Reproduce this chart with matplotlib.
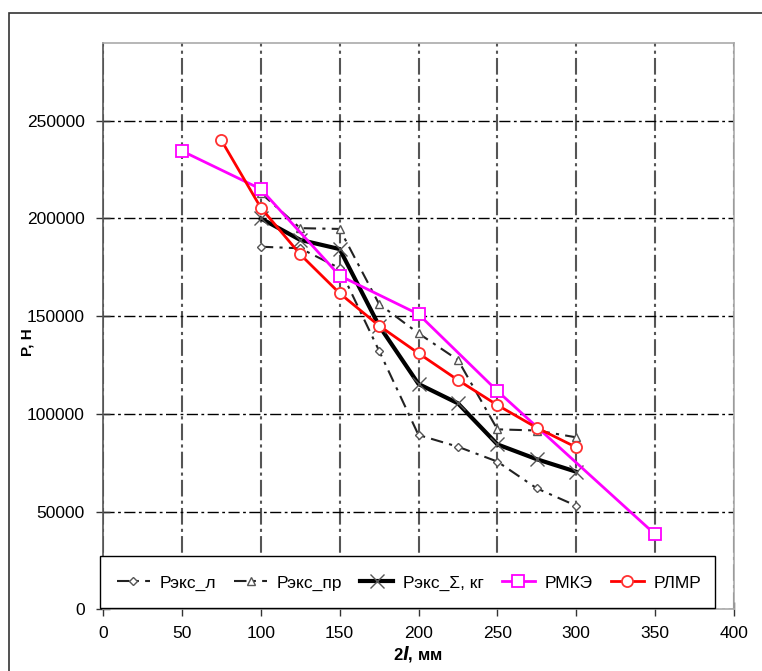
import matplotlib
matplotlib.use("Agg")
import matplotlib.pyplot as plt
from matplotlib.patches import Rectangle

plt.rcParams['font.family'] = ['Liberation Sans', 'DejaVu Sans']

x_exp = [100, 125, 150, 175, 200, 225, 250, 275, 300]
p_l = [185500, 184700, 174500, 132300, 89200, 83200, 75600, 61900, 53000]
p_pr = [213000, 195000, 194600, 156200, 141200, 127600, 92100, 91500, 88000]
p_sum = [200000, 189000, 184300, 145100, 115300, 105400, 84400, 76800, 70400]

x_mke = [50, 100, 150, 200, 250, 350]
p_mke = [234500, 215000, 170700, 151000, 111700, 38400]

x_lmr = [75, 100, 125, 150, 175, 200, 225, 250, 275, 300]
p_lmr = [240000, 205500, 181600, 161700, 145100, 131000, 117300, 104500, 92900, 82900]

labels = ['Рэкс_л', 'Рэкс_пр', 'Рэкс_Σ, кг', 'РМКЭ', 'РЛМР']
xticks = [0, 50, 100, 150, 200, 250, 300, 350, 400]
yticks = [0, 50000, 100000, 150000, 200000, 250000]

W, H = 762, 671
fig = plt.figure(figsize=(W / 100, H / 100), dpi=100)
fig.patches.append(Rectangle((9 / W, -0.1), 1.2, 1 - 13 / H + 0.1, transform=fig.transFigure,
                             fill=False, edgecolor='#333333', linewidth=1.2))

ax = fig.add_axes([103 / W, 1 - 609.4 / H, (734 - 103) / W, (609.4 - 43) / H])

dd = (0, (6, 3, 1.5, 3))
ax.plot(x_exp, p_l, color='#222222', linestyle=dd, linewidth=1.5,
        marker='D', markersize=4.5, markerfacecolor='white', markeredgecolor='#555555', label=labels[0])
ax.plot(x_exp, p_pr, color='#222222', linestyle=dd, linewidth=1.5,
        marker='^', markersize=6, markerfacecolor='white', markeredgecolor='#555555', label=labels[1])
ax.plot(x_exp, p_sum, color='black', linestyle='-', linewidth=3,
        marker='x', markersize=10, markeredgewidth=1.0, markeredgecolor='#555555', label=labels[2])
ax.plot(x_mke, p_mke, color='#ff00ff', linestyle='-', linewidth=2,
        marker='s', markersize=8, markerfacecolor='white', markeredgecolor='#ff00ff', markeredgewidth=1.3, label=labels[3])
ax.plot(x_lmr, p_lmr, color='#ff0000', linestyle='-', linewidth=2,
        marker='o', markersize=8, markerfacecolor='white', markeredgecolor='#ff3030', markeredgewidth=1.3, label=labels[4])

ax.set_xlim(0, 400)
ax.set_ylim(0, 289700)
ax.set_xticks(xticks)
ax.set_yticks(yticks)
ax.set_xticklabels([str(v) for v in xticks], fontsize=12.5)
ax.set_yticklabels([str(v) for v in yticks], fontsize=12.5)
ax.tick_params(direction='inout', length=10, color='#333333', width=1)
ax.tick_params(axis='y', pad=8)
ax.tick_params(axis='x', pad=7)

ax.xaxis.grid(True, color='#555555', linestyle=(0, (8, 2, 1.5, 2)), linewidth=1.5)
ax.yaxis.grid(True, color='black', linestyle=(0, (8, 2.5, 2, 2.5)), linewidth=1.0)
ax.set_axisbelow(True)
for s in ax.spines.values():
    s.set_color('#aaaaaa')
    s.set_linewidth(1.2)
ax.spines['left'].set_color('#555555')

fig.text(418 / W, 1 - 654 / H, r'2$\mathbfit{l}$, мм', fontsize=12, fontweight='bold', ha='center', va='center')
fig.text(28 / W, 1 - 342 / H, 'P, Н', fontsize=11, fontweight='bold', rotation=90, ha='center', va='center')

# legend box
fig.patches.append(Rectangle((100 / W, 1 - 608 / H), (715 - 100) / W, (608 - 556) / H, transform=fig.transFigure,
                             facecolor='white', edgecolor='black', linewidth=1.0, zorder=4))
handles, labs = ax.get_legend_handles_labels()
leg = fig.legend(handles, labs, loc='center', ncol=5, bbox_to_anchor=(409 / W, 1 - 583 / H),
                 fontsize=12.5, frameon=False, handlelength=1.9, handletextpad=0.55,
                 columnspacing=1.05, borderaxespad=0, borderpad=0)
leg.set_zorder(5)

fig.savefig('out.png', dpi=100, facecolor='white')
